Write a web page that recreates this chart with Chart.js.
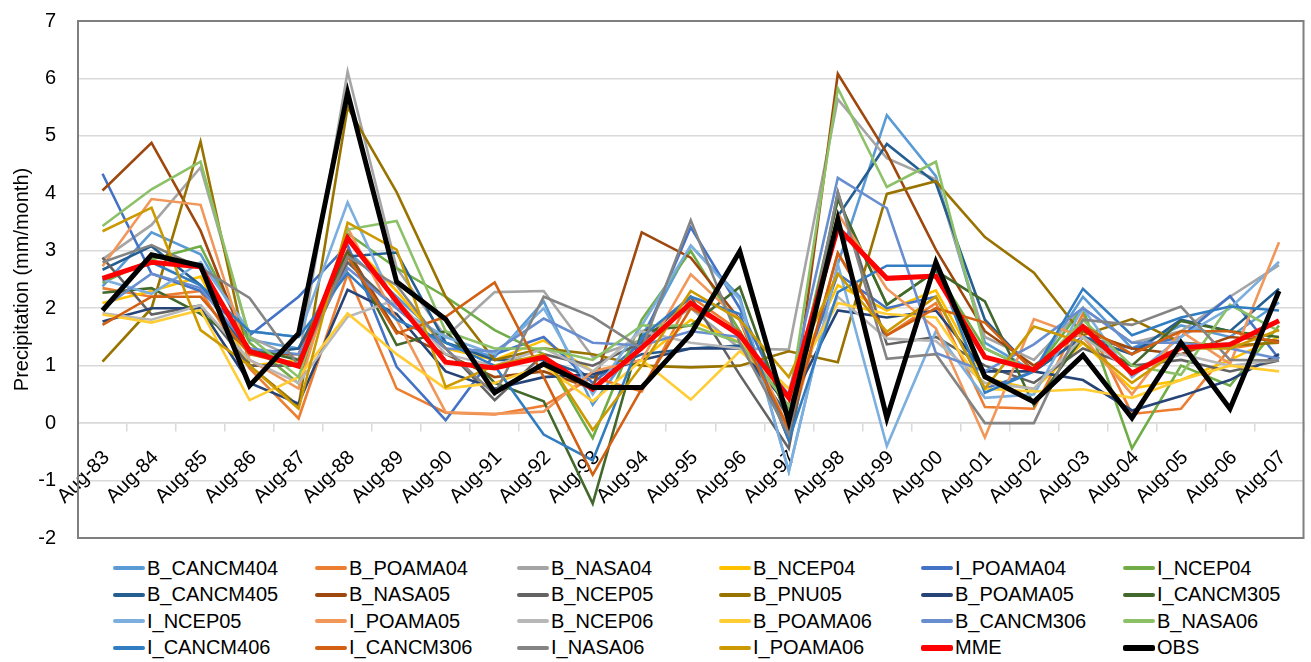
<!DOCTYPE html>
<html>
<head>
<meta charset="utf-8">
<script src="https://cdn.jsdelivr.net/npm/chart.js@4.4.1/dist/chart.umd.min.js"></script>
<style>
  body { margin: 0; background: #fff; }
  #wrap { position: relative; width: 1311px; height: 662px; overflow: hidden; }
  #chart-box { position: absolute; left: 0; top: 0; }
  #legend {
    position: absolute; left: 113px; top: 555px;
    display: grid; grid-template-columns: repeat(6, 202px); grid-auto-rows: 26.5px;
    font-family: "Liberation Sans", Arial, sans-serif; font-size: 20px; color: #000;
  }
  .item { display: flex; align-items: center; white-space: nowrap; }
  .swatch { display: inline-block; width: 32px; height: 4px; margin-right: 2px; border-radius: 2px; }
</style>
</head>
<body>
<div id="wrap">
  <div id="chart-box"><canvas id="chart" width="1311" height="552"></canvas></div>
  <div id="legend"></div>
</div>
<script>
// Categorías (eje X)
const years = ['Aug-83', 'Aug-84', 'Aug-85', 'Aug-86', 'Aug-87', 'Aug-88', 'Aug-89', 'Aug-90',
  'Aug-91', 'Aug-92', 'Aug-93', 'Aug-94', 'Aug-95', 'Aug-96', 'Aug-97', 'Aug-98', 'Aug-99',
  'Aug-00', 'Aug-01', 'Aug-02', 'Aug-03', 'Aug-04', 'Aug-05', 'Aug-06', 'Aug-07'];

// Precipitación (mm/month)
const B_CANCM404 = [2.38, 3.32, 2.94, 1.45, 1.30, 3.00, 2.20, 1.40, 1.15, 2.12, 0.32, 1.50, 3.09, 2.20, -0.84, 2.77, 5.36, 4.30, 1.40, 0.90, 2.20, 1.30, 1.70, 1.50, 2.10];
const B_POAMA04 = [2.35, 2.20, 2.30, 0.95, 0.08, 2.60, 0.60, 0.18, 0.15, 0.30, 0.80, 0.55, 2.20, 1.60, -0.20, 2.96, 1.53, 2.09, 0.28, 0.25, 1.90, 0.16, 0.25, 1.30, 1.43];
const B_NASA04 = [2.85, 3.45, 4.45, 1.50, 1.10, 6.12, 2.70, 1.50, 2.28, 2.30, 1.15, 1.45, 2.00, 1.30, 1.28, 5.64, 4.61, 4.24, 1.50, 1.10, 2.00, 1.40, 1.60, 2.20, 2.75];
const B_NCEP04 = [2.09, 2.30, 2.55, 1.00, 1.10, 3.20, 2.30, 1.30, 1.10, 1.44, 0.90, 1.10, 1.80, 1.40, 0.60, 2.40, 1.96, 2.31, 0.78, 0.59, 1.40, 0.60, 0.75, 1.10, 1.50];
const I_POAMA04 = [4.34, 2.60, 2.30, 1.53, 2.20, 3.10, 0.98, 0.05, 1.20, 1.50, 0.70, 1.40, 3.41, 2.00, 0.20, 2.60, 2.00, 2.20, 0.60, 0.90, 1.50, 1.30, 1.50, 2.21, 1.12];
const I_NCEP04 = [2.44, 2.85, 3.08, 1.40, 0.69, 3.30, 2.70, 2.20, 1.62, 1.20, -0.26, 1.80, 3.00, 1.60, 0.20, 3.90, 2.06, 2.65, 1.30, 0.90, 2.00, -0.44, 1.00, 0.65, 1.70];
const B_CANCM405 = [2.67, 3.08, 2.40, 1.20, 1.30, 2.90, 2.97, 1.40, 1.10, 1.10, 0.80, 1.20, 1.30, 1.35, 0.10, 3.60, 4.86, 4.18, 1.80, 0.90, 1.50, 1.20, 1.80, 1.60, 2.34];
const B_NASA05 = [4.05, 4.88, 3.35, 1.20, 1.20, 3.00, 1.60, 1.20, 0.80, 0.90, 0.60, 3.32, 2.88, 1.80, -0.30, 6.08, 4.70, 3.02, 1.60, 1.00, 1.60, 1.30, 1.20, 1.50, 1.43];
const B_NCEP05 = [2.88, 1.89, 2.05, 1.00, 1.00, 2.80, 2.00, 1.30, 0.40, 1.20, 1.00, 1.40, 2.20, 0.84, -0.44, 4.02, 1.37, 1.50, 1.00, 0.70, 1.30, 1.00, 1.10, 0.90, 1.09];
const B_PNU05 = [1.07, 2.00, 4.90, 1.00, 0.30, 5.50, 4.02, 2.20, 1.10, 1.30, 1.20, 1.00, 0.97, 1.00, 1.25, 1.06, 3.99, 4.21, 3.24, 2.62, 1.53, 1.81, 1.40, 1.35, 1.40];
const B_POAMA05 = [1.77, 2.00, 2.00, 0.70, 0.34, 2.32, 1.90, 0.90, 0.60, 0.80, 0.85, 1.10, 1.30, 1.30, 0.30, 1.96, 1.84, 1.96, 0.90, 0.90, 0.75, 0.22, 0.47, 0.75, 1.20];
const I_CANCM305 = [2.27, 2.35, 1.90, 1.30, 1.10, 2.97, 1.36, 1.60, 0.70, 0.38, -1.40, 1.60, 1.70, 2.37, 0.00, 3.90, 2.06, 2.65, 2.12, 0.31, 1.50, 1.00, 1.78, 1.60, 1.50];
const I_NCEP05 = [2.50, 2.25, 2.80, 1.60, 1.50, 3.84, 2.00, 1.50, 1.20, 2.00, 0.50, 1.70, 3.09, 2.15, -0.84, 2.77, -0.40, 1.60, 0.44, 0.50, 2.00, 0.80, 1.50, 2.00, 2.81];
const I_POAMA05 = [2.73, 3.90, 3.80, 1.10, 0.60, 3.40, 1.80, 0.19, 0.16, 0.20, 0.90, 1.10, 2.59, 1.80, -0.10, 3.65, 2.34, 1.65, -0.25, 1.81, 1.50, 0.50, 1.60, 1.03, 3.15];
const B_NCEP06 = [1.91, 1.80, 2.05, 1.10, 0.70, 1.85, 2.15, 1.20, 1.00, 1.30, 0.90, 1.60, 1.40, 1.30, 0.50, 2.20, 1.47, 1.43, 0.70, 0.60, 1.50, 0.90, 1.20, 1.00, 1.10];
const B_POAMA06 = [1.89, 1.75, 1.97, 0.40, 0.80, 1.91, 1.20, 0.60, 0.70, 1.00, 0.38, 1.10, 0.41, 1.25, 0.60, 2.09, 1.90, 1.84, 0.60, 0.55, 0.59, 0.44, 0.75, 1.00, 0.90];
const B_CANCM306 = [2.00, 2.60, 2.35, 1.30, 1.20, 2.70, 2.00, 1.30, 1.25, 1.82, 1.40, 1.35, 1.60, 1.50, 0.50, 4.27, 3.74, 1.22, 0.90, 1.37, 2.00, 1.40, 1.40, 1.30, 1.12];
const B_NASA06 = [3.43, 4.07, 4.55, 1.50, 0.80, 3.37, 3.52, 1.60, 1.30, 1.30, 1.10, 1.70, 1.70, 1.40, 0.30, 5.83, 4.11, 4.55, 1.30, 0.90, 1.80, 1.00, 0.84, 2.06, 1.60];
const I_CANCM406 = [2.50, 2.80, 2.40, 1.60, 1.50, 2.61, 1.80, 1.40, 1.00, -0.20, -0.65, 1.50, 2.20, 1.90, -0.30, 2.28, 2.74, 2.74, 0.53, 0.90, 2.34, 1.53, 1.84, 2.03, 1.96];
const I_CANCM306 = [1.71, 2.20, 2.20, 1.20, 1.00, 2.90, 1.56, 1.85, 2.45, 0.80, -0.90, 0.60, 2.00, 1.60, -0.10, 2.96, 1.53, 2.00, 1.75, 0.90, 1.70, 1.20, 1.60, 1.60, 1.40];
const I_NASA06 = [2.80, 3.10, 2.70, 2.18, 1.00, 2.90, 2.40, 1.30, 0.50, 2.20, 1.85, 1.30, 3.53, 1.40, -0.20, 4.02, 1.12, 1.20, 0.00, 0.00, 1.80, 1.71, 2.03, 1.10, 1.09];
const I_POAMA06 = [3.34, 3.75, 1.62, 1.00, 0.25, 3.49, 3.02, 0.63, 1.00, 1.20, -0.12, 1.00, 2.30, 1.80, 0.80, 2.60, 1.59, 2.20, 0.60, 1.68, 1.40, 0.70, 1.30, 1.30, 1.62];
const MME = [2.52, 2.80, 2.72, 1.25, 0.99, 3.22, 2.12, 1.06, 0.96, 1.15, 0.59, 1.31, 2.09, 1.53, 0.44, 3.40, 2.52, 2.56, 1.15, 0.93, 1.68, 0.87, 1.31, 1.37, 1.78];
const OBS = [1.96, 2.93, 2.74, 0.65, 1.56, 5.75, 2.46, 1.81, 0.53, 1.03, 0.62, 0.62, 1.55, 2.99, 0.03, 3.55, 0.09, 2.80, 0.81, 0.37, 1.18, 0.09, 1.40, 0.25, 2.30];

// Orden de la leyenda (6 columnas)
const seriesList = [
  ['B_CANCM404', B_CANCM404, '#5B9BD5'], ['B_POAMA04', B_POAMA04, '#ED7D31'],
  ['B_NASA04', B_NASA04, '#A5A5A5'], ['B_NCEP04', B_NCEP04, '#FFC000'],
  ['I_POAMA04', I_POAMA04, '#4472C4'], ['I_NCEP04', I_NCEP04, '#70AD47'],
  ['B_CANCM405', B_CANCM405, '#255E91'], ['B_NASA05', B_NASA05, '#9E480E'],
  ['B_NCEP05', B_NCEP05, '#636363'], ['B_PNU05', B_PNU05, '#997300'],
  ['B_POAMA05', B_POAMA05, '#264478'], ['I_CANCM305', I_CANCM305, '#43682B'],
  ['I_NCEP05', I_NCEP05, '#7CAFDD'], ['I_POAMA05', I_POAMA05, '#F1975A'],
  ['B_NCEP06', B_NCEP06, '#B7B7B7'], ['B_POAMA06', B_POAMA06, '#FFCD33'],
  ['B_CANCM306', B_CANCM306, '#698ED0'], ['B_NASA06', B_NASA06, '#8CC168'],
  ['I_CANCM406', I_CANCM406, '#327DC2'], ['I_CANCM306', I_CANCM306, '#D26012'],
  ['I_NASA06', I_NASA06, '#848484'], ['I_POAMA06', I_POAMA06, '#CC9A00'],
  ['MME', MME, '#FF0000'], ['OBS', OBS, '#000000']
];

const FONT = '"Liberation Sans", Arial, sans-serif';

let datasets = seriesList.map(([name, values, color], i) => {
  let thick = (name === 'MME' || name === 'OBS');
  return {
    label: name,
    data: values,
    borderColor: color,
    backgroundColor: color,
    borderWidth: thick ? 5 : 2.6,
    pointRadius: 0,
    tension: 0,
    fill: false,
    // las últimas series se dibujan encima (como en Excel)
    order: seriesList.length - i
  };
});

// Marco del área de trazado
const plotBorder = {
  id: 'plotBorder',
  afterDraw(chart) {
    let a = chart.chartArea;
    let ctx = chart.ctx;
    ctx.save();
    ctx.strokeStyle = '#7f7f7f';
    ctx.lineWidth = 2;
    ctx.strokeRect(a.left, a.top, a.right - a.left, a.bottom - a.top);
    ctx.restore();
  }
};

new Chart(document.getElementById('chart'), {
  type: 'line',
  data: { labels: years, datasets: datasets },
  options: {
    responsive: false,
    animation: false,
    events: [],
    layout: { padding: { top: 21, right: 1, bottom: 14, left: 0 } },
    plugins: { legend: { display: false }, tooltip: { enabled: false } },
    scales: {
      x: {
        position: { y: 0 },
        offset: true,
        grid: { offset: true, drawOnChartArea: false, drawTicks: true, tickLength: 8, color: '#d9d9d9', lineWidth: 1.5 },
        border: { display: true, color: '#d9d9d9', width: 1.5 },
        ticks: {
          autoSkip: false, minRotation: 45, maxRotation: 45, padding: 15, labelOffset: 4,
          color: '#000', font: { family: FONT, size: 20 }
        },
        afterFit: s => { s.height = 0; }
      },
      y: {
        min: -2, max: 7,
        ticks: { stepSize: 1, padding: 0, color: '#000', font: { family: FONT, size: 20 } },
        // marcas invisibles: solo separan las etiquetas del marco
        grid: { color: '#d9d9d9', lineWidth: 1.5, drawTicks: true, tickLength: 22, tickColor: 'rgba(0,0,0,0)' },
        border: { display: false },
        title: {
          display: true, text: 'Precipitation (mm/month)', color: '#000',
          font: { family: FONT, size: 20 }, padding: { top: 10, bottom: 0 }
        },
        afterFit: s => { s.width = 78; }
      }
    }
  },
  plugins: [plotBorder]
});

// Leyenda en HTML con columnas fijas
let legend = document.getElementById('legend');
seriesList.forEach(([name, values, color]) => {
  let item = document.createElement('div');
  item.className = 'item';
  let sw = document.createElement('span');
  sw.className = 'swatch';
  sw.style.background = color;
  if (name === 'MME' || name === 'OBS') sw.style.height = '6px';
  let txt = document.createElement('span');
  txt.textContent = name;
  item.appendChild(sw);
  item.appendChild(txt);
  legend.appendChild(item);
});
</script>
</body>
</html>
